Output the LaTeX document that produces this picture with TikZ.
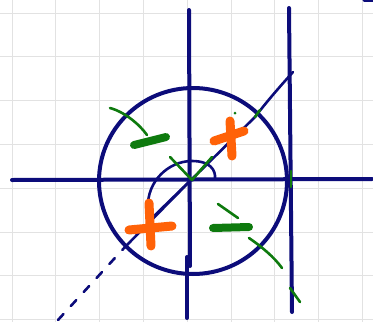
\documentclass[tikz,border=0pt]{standalone}
\definecolor{ink}{RGB}{12,12,122}
\definecolor{pen}{RGB}{255,98,8}
\definecolor{leaf}{RGB}{14,122,14}
\definecolor{paper}{RGB}{226,226,226}
\tikzset{
  gridline/.style={paper, line width=1pt},
  axis/.style={ink, line width=4pt},
  trace/.style={ink, line width=2.6pt},
  tick/.style={leaf, line width=2.6pt},
  bar/.style={leaf, line width=8pt},
  cross/.style={pen, line width=9pt}
}
\begin{document}
\begin{tikzpicture}[x=1pt, y=-1pt, line cap=round, line join=round]
    \useasboundingbox (0,0) rectangle (373,322);

    % Grid
    \foreach \i in {0,...,8} {
        \draw[gridline] ({12+43.8*\i},0) -- ++(0,322);
        \draw[gridline] (0,{13+43.8*\i}) -- ++(373,0);
    }

    % Coordinates
    \coordinate (O) at (190,181);
    \coordinate (C) at (193,181);
    \coordinate (L) at (12,180);
    \coordinate (R) at (372,179);
    \coordinate (T) at (189,10);
    \coordinate (B) at (190,266);
    \coordinate (B1) at (187,257);
    \coordinate (B2) at (187,318);
    \coordinate (P) at (289,8);
    \coordinate (Q) at (292,312);
    \coordinate (D0) at (58,320);
    \coordinate (D1) at (125,247);
    \coordinate (D2) at (255,117);
    \coordinate (D3) at (293,72);

    % Draw axes and the right line
    \draw[axis] (L) -- (R);
    \draw[axis] (T) -- (B);
    \draw[axis] (B1) -- (B2);
    \draw[axis] (P) -- (Q);

    % Draw circle
    \draw[axis] (C) circle [x radius=94, y radius=93];

    % Draw diagonal, solid part and dashed tail
    \draw[trace] (D1) -- (O) -- (D2) .. controls (265,104) and (275,92) .. (D3);
    \draw[trace] (152,218) -- (O);
    \draw[trace, dash pattern=on 8pt off 11pt] (D0) -- (D1);

    % Draw angle arc
    \draw[trace] (148,207) .. controls (147,182) and (168,161) .. (192,161)
                 .. controls (210,161) and (216,170) .. (215,179);

    % Draw signs
    \draw[tick] (110,108) .. controls (125,112) and (140,125) .. (147,135);
    \draw[bar] (134,145) -- (166,137);
    \draw[tick] (170,157) -- (192,180) -- (212,157);
    \draw[tick] (218,204) -- (238,218);
    \draw[bar] (213,228) -- (249,227);
    \draw[tick] (249,238) .. controls (262,247) and (274,257) .. (282,268);
    \draw[tick] (290,288) -- (300,302);
    \draw[tick] (255,117) -- (260,110);
    \draw[tick] (291,171) -- (291,187);
    \fill[leaf] (235,113) circle (1.5);

    % Draw crosses
    \draw[cross] (230,121) -- (232,156);
    \draw[cross] (214,141) -- (244,131);
    \draw[cross] (149,203) -- (151,246);
    \draw[cross] (129,230) -- (172,226);

    % Corner scrap
    \draw[ink, line width=3pt] (364,0) -- (373,0);
\end{tikzpicture}
\end{document}
